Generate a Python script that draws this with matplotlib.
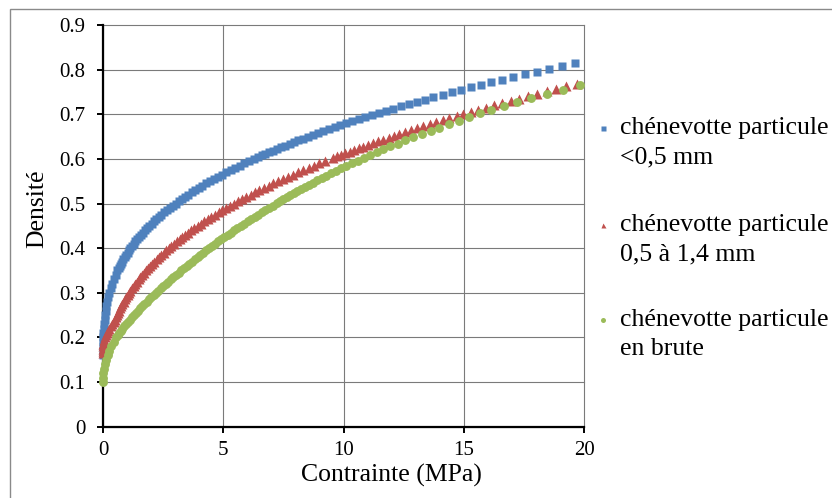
import matplotlib
matplotlib.use('Agg')
import matplotlib.pyplot as plt
from matplotlib.lines import Line2D
from matplotlib.patches import Rectangle

plt.rcParams['font.family'] = ['Liberation Serif', 'DejaVu Serif']

# ---- data (stress in MPa, density) ----
blue_stress = [0.00, 0.00, 0.00, 0.01, 0.01, 0.02, 0.03, 0.05, 0.07, 0.09,
               0.11, 0.14, 0.18, 0.22, 0.27, 0.32, 0.38, 0.45, 0.52, 0.60,
               0.65, 0.69, 0.74, 0.79, 0.84, 0.90, 0.96, 1.02, 1.08, 1.14,
               1.21, 1.28, 1.35, 1.42, 1.50, 1.58, 1.66, 1.75, 1.84, 1.93,
               2.02, 2.12, 2.22, 2.33, 2.43, 2.54, 2.66, 2.77, 2.89, 3.02,
               3.14, 3.27, 3.41, 3.54, 3.69, 3.83, 3.98, 4.13, 4.29, 4.45,
               4.61, 4.78, 4.95, 5.13, 5.31, 5.49, 5.68, 5.87, 6.07,
               6.29, 6.44, 6.59, 6.74, 6.90, 7.06, 7.23, 7.39, 7.57, 7.75,
               7.94, 8.12, 8.32, 8.52, 8.73, 8.94, 9.16, 9.39, 9.62, 9.86,
               10.11, 10.36, 10.62, 10.89, 11.17, 11.46, 11.76, 12.06, 12.38, 12.70,
               13.04, 13.38, 13.73, 14.11, 14.49, 14.87, 15.28, 15.70, 16.14, 16.59,
               17.05, 17.53, 18.02, 18.53, 19.06, 19.61]
blue_density = [0.16, 0.17, 0.18, 0.19, 0.20, 0.21, 0.22, 0.23, 0.24, 0.25,
                0.26, 0.27, 0.28, 0.29, 0.30, 0.31, 0.32, 0.33, 0.34, 0.35,
                0.355, 0.36, 0.365, 0.37, 0.375, 0.38, 0.385, 0.39, 0.395, 0.40,
                0.405, 0.41, 0.415, 0.42, 0.425, 0.43, 0.435, 0.44, 0.445, 0.45,
                0.455, 0.46, 0.465, 0.47, 0.475, 0.48, 0.485, 0.49, 0.495, 0.50,
                0.505, 0.51, 0.515, 0.52, 0.525, 0.53, 0.535, 0.54, 0.545, 0.55,
                0.555, 0.56, 0.565, 0.57, 0.575, 0.58, 0.585, 0.59, 0.595,
                0.6006, 0.6041, 0.6077, 0.6113, 0.6149, 0.6186, 0.6224, 0.6261, 0.6300, 0.6338,
                0.6378, 0.6417, 0.6457, 0.6498, 0.6539, 0.6581, 0.6623, 0.6666, 0.6710, 0.6754,
                0.6798, 0.6843, 0.6889, 0.6935, 0.6982, 0.7030, 0.7078, 0.7127, 0.7177, 0.7227,
                0.7278, 0.7330, 0.7382, 0.7436, 0.7490, 0.7544, 0.7600, 0.7656, 0.7714, 0.7772,
                0.7831, 0.7891, 0.7952, 0.8013, 0.8076, 0.8140]

red_stress = [0.00, 0.00, 0.01, 0.01, 0.02, 0.04, 0.06, 0.09, 0.12, 0.16,
              0.21, 0.26, 0.32, 0.38, 0.44, 0.50, 0.55, 0.59,
              0.63, 0.67, 0.71, 0.76, 0.81, 0.86, 0.91, 0.97, 1.02, 1.08,
              1.14, 1.20, 1.27, 1.34, 1.41, 1.48, 1.55, 1.63, 1.70, 1.79,
              1.87, 1.95, 2.04, 2.13, 2.23, 2.32, 2.42, 2.52, 2.62, 2.73,
              2.84, 2.95, 3.06, 3.18, 3.30, 3.42, 3.55, 3.67, 3.80, 3.94,
              4.07, 4.21, 4.36, 4.50, 4.65, 4.80, 4.96, 5.12, 5.28, 5.44,
              5.61, 5.78, 5.96, 6.14, 6.32, 6.50, 6.69, 6.88, 7.08, 7.28,
              7.48, 7.68, 7.89, 8.10, 8.32, 8.54, 8.76, 8.99, 9.22,
              9.55, 9.72, 9.89, 10.07, 10.25, 10.44, 10.63, 10.82, 11.02, 11.22,
              11.43, 11.65, 11.87, 12.09, 12.32, 12.56, 12.80, 13.05, 13.31, 13.57,
              13.84, 14.11, 14.39, 14.69, 14.98, 15.28, 15.59, 15.91, 16.24, 16.59,
              16.94, 17.29, 17.66, 18.05, 18.43, 18.83, 19.25, 19.68]
red_density = [0.165, 0.17, 0.175, 0.18, 0.185, 0.19, 0.195, 0.20, 0.205, 0.21,
               0.215, 0.22, 0.225, 0.23, 0.235, 0.24, 0.245, 0.25,
               0.255, 0.26, 0.265, 0.27, 0.275, 0.28, 0.285, 0.29, 0.295, 0.30,
               0.305, 0.31, 0.315, 0.32, 0.325, 0.33, 0.335, 0.34, 0.345, 0.35,
               0.355, 0.36, 0.365, 0.37, 0.375, 0.38, 0.385, 0.39, 0.395, 0.40,
               0.405, 0.41, 0.415, 0.42, 0.425, 0.43, 0.435, 0.44, 0.445, 0.45,
               0.455, 0.46, 0.465, 0.47, 0.475, 0.48, 0.485, 0.49, 0.495, 0.50,
               0.505, 0.51, 0.515, 0.52, 0.525, 0.53, 0.535, 0.54, 0.545, 0.55,
               0.555, 0.56, 0.565, 0.57, 0.575, 0.58, 0.585, 0.59, 0.595,
               0.6020, 0.6056, 0.6092, 0.6128, 0.6164, 0.6202, 0.6239, 0.6277, 0.6316, 0.6354,
               0.6394, 0.6434, 0.6474, 0.6515, 0.6556, 0.6598, 0.6641, 0.6684, 0.6728, 0.6772,
               0.6817, 0.6862, 0.6908, 0.6955, 0.7002, 0.7050, 0.7098, 0.7147, 0.7197, 0.7248,
               0.7299, 0.7351, 0.7404, 0.7458, 0.7512, 0.7567, 0.7623, 0.7680]

green_stress = [0.00, 0.00, 0.02, 0.04, 0.08, 0.13, 0.19, 0.27, 0.35, 0.45, 0.55,
                0.61, 0.68, 0.74, 0.81, 0.88, 0.96, 1.03, 1.11, 1.19, 1.28,
                1.36, 1.45, 1.54, 1.63, 1.72, 1.81, 1.91, 2.00, 2.10, 2.20,
                2.30, 2.40, 2.50, 2.61, 2.71, 2.82, 2.92, 3.03, 3.14, 3.25,
                3.36, 3.47, 3.59, 3.70, 3.82, 3.93, 4.05, 4.17, 4.29, 4.41,
                4.53, 4.66, 4.79, 4.91, 5.04, 5.18, 5.31, 5.45, 5.58, 5.73,
                5.87, 6.01, 6.16, 6.30, 6.45, 6.60, 6.75, 6.90, 7.05,
                7.23, 7.37, 7.50, 7.64, 7.78, 7.93, 8.08, 8.24, 8.39, 8.56,
                8.72, 8.90, 9.08, 9.27, 9.46, 9.67, 9.88, 10.11, 10.34, 10.58,
                10.83, 11.10, 11.37, 11.65, 11.94, 12.25, 12.57, 12.90, 13.25, 13.61,
                13.98, 14.37, 14.78, 15.21, 15.66, 16.14, 16.65, 17.21, 17.80, 18.44,
                19.12, 19.82]
green_density = [0.10, 0.11, 0.12, 0.13, 0.14, 0.15, 0.16, 0.17, 0.18, 0.19, 0.20,
                 0.205, 0.21, 0.215, 0.22, 0.225, 0.23, 0.235, 0.24, 0.245, 0.25,
                 0.255, 0.26, 0.265, 0.27, 0.275, 0.28, 0.285, 0.29, 0.295, 0.30,
                 0.305, 0.31, 0.315, 0.32, 0.325, 0.33, 0.335, 0.34, 0.345, 0.35,
                 0.355, 0.36, 0.365, 0.37, 0.375, 0.38, 0.385, 0.39, 0.395, 0.40,
                 0.405, 0.41, 0.415, 0.42, 0.425, 0.43, 0.435, 0.44, 0.445, 0.45,
                 0.455, 0.46, 0.465, 0.47, 0.475, 0.48, 0.485, 0.49, 0.495,
                 0.5010, 0.5053, 0.5096, 0.5140, 0.5185, 0.5230, 0.5277, 0.5324, 0.5372, 0.5421,
                 0.5470, 0.5521, 0.5573, 0.5626, 0.5679, 0.5734, 0.5790, 0.5847, 0.5905, 0.5964,
                 0.6024, 0.6086, 0.6149, 0.6213, 0.6278, 0.6345, 0.6414, 0.6483, 0.6555, 0.6628,
                 0.6702, 0.6779, 0.6857, 0.6937, 0.7019, 0.7102, 0.7188, 0.7276, 0.7366, 0.7458,
                 0.7553, 0.7650]

x_ticks = [0, 5, 10, 15, 20]
x_tick_labels = ['0', '5', '10', '15', '20']
y_ticks = [0, 0.1, 0.2, 0.3, 0.4, 0.5, 0.6, 0.7, 0.8, 0.9]
y_tick_labels = ['0', '0.1', '0.2', '0.3', '0.4', '0.5', '0.6', '0.7', '0.8', '0.9']

legend_lines = [('chénevotte particule', '<0,5 mm'),
                ('chénevotte particule', '0,5 à 1,4 mm'),
                ('chénevotte particule', 'en brute')]
colors = ['#4F81BD', '#C0504D', '#9BBB59']
markers = ['s', '^', 'o']

W, H = 832, 498
fig = plt.figure(figsize=(W / 100, H / 100), dpi=100)

# outer chart frame (cut by the picture on right/bottom)
fig.add_artist(Rectangle((10 / W, -0.1), 1.2, 1 - 9 / H + 0.1,
                         transform=fig.transFigure, fill=False,
                         ec='#8a8a8a', lw=1.0))

ax = fig.add_axes([103 / W, 1 - 426.7 / H, (584.3 - 103) / W, (426.7 - 25) / H])

ax.plot(blue_stress, blue_density, 's', color=colors[0], ms=5.6, mec='none', clip_on=False, zorder=3)
ax.plot(red_stress, red_density, '^', color=colors[1], ms=7.0, mec='none', clip_on=False, zorder=3)
ax.plot(green_stress, green_density, 'o', color=colors[2], ms=6.4, mec='none', clip_on=False, zorder=3)

ax.set_xlim(0, 20)
ax.set_ylim(0, 0.9)
ax.set_xticks(x_ticks)
ax.set_xticklabels(x_tick_labels)
ax.set_yticks(y_ticks)
ax.set_yticklabels(y_tick_labels)
ax.grid(True, color='#7a7a7a', lw=0.8, clip_on=False)
ax.set_axisbelow(True)

for s in ['top', 'right']:
    ax.spines[s].set_visible(False)
for s in ['left', 'bottom']:
    ax.spines[s].set_linewidth(1.6)
    ax.spines[s].set_color('black')
    ax.spines[s].set_zorder(2.5)
ax.tick_params(axis='both', direction='out', length=4.5, width=1.4,
               labelsize=15, colors='black')
ax.tick_params(axis='y', pad=8)
ax.tick_params(axis='x', pad=6)

fig.text(37 / W, 1 - 208.5 / H, 'Densité', rotation=90, ha='center', va='center', fontsize=18.5)
fig.text(391 / W, 1 - 475 / H, 'Contrainte (MPa)', ha='center', va='center', fontsize=18.5)

# legend drawn by hand: marker beside first line of each two-line label
entry_y = [128, 225, 320]
for (l1, l2), yy, c, m in zip(legend_lines, entry_y, colors, markers):
    fig.add_artist(Line2D([603 / W], [1 - yy / H], marker=m, color=c, ms=3.6,
                          mec='none', linestyle='none', transform=fig.transFigure))
    fig.text(620 / W, 1 - yy / H, l1, ha='left', va='center', fontsize=18.5)
    fig.text(620 / W, 1 - (yy + 29) / H, l2, ha='left', va='center', fontsize=18.5)

fig.savefig('out.png', dpi=100)
